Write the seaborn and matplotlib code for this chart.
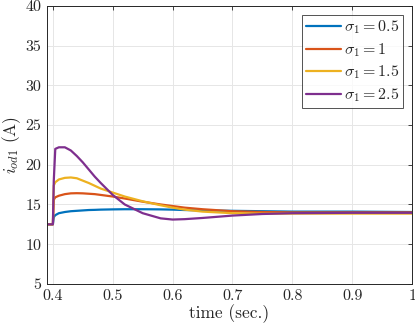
import numpy as np
import pandas as pd
import matplotlib
matplotlib.use("Agg")
import matplotlib.pyplot as plt
import seaborn as sns

time = [0.39, 0.4, 0.4015, 0.404, 0.41, 0.42, 0.43, 0.44, 0.45, 0.46, 0.47, 0.48,
        0.50, 0.52, 0.55, 0.58, 0.60, 0.62, 0.65, 0.70, 0.75, 0.80, 0.90, 1.00]
sigma_05 = [12.5, 12.5, 13.4, 13.65, 13.9, 14.05, 14.15, 14.2, 14.25, 14.3, 14.32, 14.35,
            14.38, 14.4, 14.4, 14.38, 14.35, 14.3, 14.25, 14.2, 14.15, 14.1, 14.1, 14.05]
sigma_1 = [12.5, 12.5, 15.6, 15.9, 16.1, 16.3, 16.4, 16.42, 16.4, 16.35, 16.3, 16.2,
           16.0, 15.75, 15.35, 15.0, 14.8, 14.6, 14.4, 14.15, 14.05, 14.0, 14.0, 14.0]
sigma_15 = [12.5, 12.5, 17.4, 17.8, 18.15, 18.35, 18.4, 18.3, 18.0, 17.7, 17.35, 17.0,
            16.5, 16.0, 15.4, 14.9, 14.6, 14.35, 14.1, 13.9, 13.85, 13.85, 13.85, 13.85]
sigma_25 = [12.5, 12.5, 18.0, 22.0, 22.2, 22.2, 21.8, 21.1, 20.3, 19.4, 18.5, 17.7,
            16.2, 15.0, 13.9, 13.25, 13.1, 13.15, 13.3, 13.6, 13.8, 13.9, 13.95, 13.95]
labels = [r'$\sigma_1 = 0.5$', r'$\sigma_1 = 1$', r'$\sigma_1 = 1.5$', r'$\sigma_1 = 2.5$']
colors = ['#0072BD', '#D95319', '#EDB120', '#7E2F8E']
xticks = [0.4, 0.5, 0.6, 0.7, 0.8, 0.9, 1.0]
xticklabels = ['0.4', '0.5', '0.6', '0.7', '0.8', '0.9', '1']
yticks = [5, 10, 15, 20, 25, 30, 35, 40]

frames = []
for lab, vals in zip(labels, [sigma_05, sigma_1, sigma_15, sigma_25]):
    frames.append(pd.DataFrame({'time': time, 'value': vals, 'series': lab}))
df = pd.concat(frames, ignore_index=True)

sns.set_style("white")
plt.rcParams['font.family'] = 'serif'
plt.rcParams['font.serif'] = ['cmr10', 'DejaVu Serif']
plt.rcParams['mathtext.fontset'] = 'cm'
plt.rcParams['axes.unicode_minus'] = False

fig = plt.figure(figsize=(4.15, 3.32), dpi=100)
ax = fig.add_axes([0.113, 0.145, 0.880, 0.837])
sns.lineplot(data=df, x='time', y='value', hue='series', palette=colors,
             linewidth=1.6, ax=ax, sort=False, estimator=None)

ax.set_xlim(0.39, 1.0)
ax.set_ylim(5, 40)
ax.set_xticks(xticks)
ax.set_xticklabels(xticklabels)
ax.set_yticks(yticks)
ax.grid(True, color='#e6e6e6', linewidth=0.7)
ax.set_axisbelow(True)
for s in ax.spines.values():
    s.set_color('#262626')
    s.set_linewidth(0.7)
ax.tick_params(direction='in', top=True, right=True, length=3, width=0.6,
               labelsize=11.5, colors='#262626', pad=4)
ax.set_xlabel('time (sec.)', fontsize=12.5, labelpad=1)
ax.set_ylabel(r'$i_{od1}$ (A)', fontsize=12.5, labelpad=2)

leg = ax.legend(loc='upper right', fontsize=11.5, frameon=True, fancybox=False,
                handlelength=2.2, handletextpad=0.2, borderpad=0.25, labelspacing=0.3,
                borderaxespad=0.55)
leg.get_frame().set_edgecolor('#262626')
leg.get_frame().set_linewidth(0.7)

fig.savefig('out.png', dpi=100)
